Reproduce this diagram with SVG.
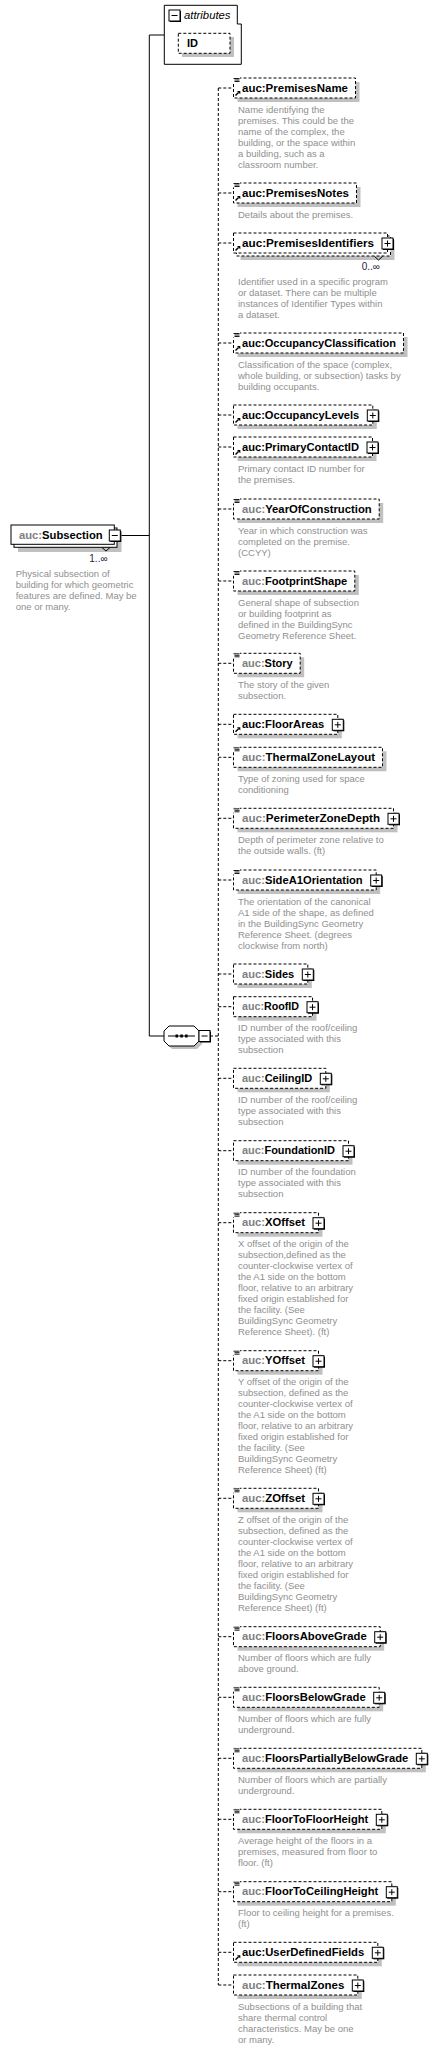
<svg xmlns="http://www.w3.org/2000/svg" xmlns:xlink="http://www.w3.org/1999/xlink" width="435" height="2051" viewBox="0 0 435 2051">
<style>
.bg{fill:#ffffff}
.sh{fill:#c0c0c0;stroke:none}
.box{fill:#ffffff;stroke:#000000;stroke-width:1;stroke-dasharray:3,2}
.sbox{fill:#ffffff;stroke:#000000;stroke-width:1}
.ln{stroke:#000000;stroke-width:1;fill:none}
.dln{stroke:#000000;stroke-width:1;fill:none;stroke-dasharray:3,2}
.nm{font-family:"Liberation Sans",Arial,sans-serif;font-size:11px;font-weight:bold;fill:#000000}
.pg{fill:#808080}
.pb{fill:#000000}
.ds{font-family:"Liberation Sans",Arial,sans-serif;font-size:9.5px;fill:#8f8f8f}
.oc{font-family:"Liberation Sans",Arial,sans-serif;font-size:10px;fill:#301840}
.it{font-family:"Liberation Sans",Arial,sans-serif;font-size:11px;font-style:italic;fill:#000000}
</style>
<defs>
<g id="plus">
<rect x="1" y="1" width="11" height="11" fill="#000000"/>
<rect x="0" y="0" width="11" height="11" fill="#ffffff" stroke="#000000" stroke-width="1"/>
<path d="M2.5 5.5H8.5M5.5 2.5V8.5" stroke="#000000" stroke-width="1" fill="none"/>
</g>
<g id="minus">
<rect x="1" y="1" width="11" height="11" fill="#000000"/>
<rect x="0" y="0" width="11" height="11" fill="#ffffff" stroke="#000000" stroke-width="1"/>
<path d="M2.5 5.5H8.5" stroke="#000000" stroke-width="1" fill="none"/>
</g>
<g id="doc">
<rect x="-0.5" y="-1" width="7" height="5.5" fill="#ffffff"/>
<path d="M0 0.5H6M1 2H6M1 3.5H6" stroke="#000000" stroke-width="0.9" fill="none"/>
</g>
<g id="ref">
<path d="M2 17.5L5 14.5" stroke="#000000" stroke-width="1.4" fill="none"/>
<polygon points="3.5,13 6.8,13 6.8,16.3" fill="#000000"/>
</g>
</defs>
<rect x="0" y="0" width="435" height="2051" fill="#ffffff"/>

<g id="connectors">
<path class="ln" d="M149.3 35V1036M149.3 35H164.3M120 535.5H149.3M149.3 1036H164"/>
<path class="dln" d="M210 1036H218.3M218.3 88V1985"/>
<path class="dln" d="M218.3 88H233.5M218.3 193H233.5M218.3 243H233.5M218.3 343H233.5M218.3 415H233.5M218.3 447H233.5M218.3 509H233.5M218.3 581H233.5M218.3 663.3H233.5M218.3 724.3H233.5M218.3 757.3H233.5M218.3 818.3H233.5M218.3 880H233.5M218.3 974H233.5M218.3 1006.7H233.5M218.3 1078.3H233.5M218.3 1150.7H233.5M218.3 1222.7H233.5M218.3 1360.7H233.5M218.3 1498.3H233.5M218.3 1636.7H233.5M218.3 1697.3H233.5M218.3 1758.3H233.5M218.3 1819.3H233.5M218.3 1891.7H233.5M218.3 1952.3H233.5M218.3 1985H233.5"/>
</g>

<g id="attributes">
<path d="M164.3 5.3H237.3V24H241.3V64.3H164.3Z" class="sbox"/>
<use xlink:href="#minus" x="169" y="10"/>
<text class="it" x="184" y="18.5" textLength="46.5" lengthAdjust="spacingAndGlyphs">attributes</text>
<rect class="sh" x="182" y="37" width="52" height="20"/>
<rect class="box" x="178.3" y="33.3" width="51.7" height="20"/>
<text class="nm" x="187" y="46.5">ID</text>
</g>

<g id="Subsection">
<rect class="sh" x="18" y="532" width="103.5" height="20"/>
<rect class="sbox" x="14" y="528" width="103" height="19.3"/>
<rect class="sbox" x="11" y="525" width="103.3" height="19.3"/>
<text class="nm" x="19" y="538.5" textLength="83.7" lengthAdjust="spacingAndGlyphs"><tspan class="pg">auc:</tspan>Subsection</text>
<use xlink:href="#minus" x="109.3" y="530"/>
<path class="ln" d="M102 547.5L106 551L110 547.5"/>
<text class="oc" x="89.3" y="561.7">1..∞</text>
<text class="ds"><tspan x="15.7" y="577">Physical subsection of</tspan><tspan x="15.7" y="588">building for which geometric</tspan><tspan x="15.7" y="599">features are defined. May be</tspan><tspan x="15.7" y="610">one or many.</tspan></text>
</g>

<g id="sequence">
<polygon class="sh" points="172,1029 197,1029 202,1034 202,1044 197,1049 172,1049 167,1044 167,1034"/>
<polygon class="sbox" points="169,1026 194,1026 199,1031 199,1041 194,1046 169,1046 164,1041 164,1031"/>
<path class="ln" d="M168 1036H195"/>
<rect x="175.5" y="1034.5" width="2.5" height="3" fill="#000000"/>
<rect x="180.3" y="1034.5" width="2.5" height="3" fill="#000000"/>
<rect x="185.1" y="1034.5" width="2.5" height="3" fill="#000000"/>
<use xlink:href="#minus" x="199" y="1030.5"/>
</g>

<g id="PremisesName">
<rect class="sh" x="237.5" y="82" width="122" height="20"/>
<rect class="box" x="233.5" y="78" width="122" height="20"/>
<use xlink:href="#doc" x="233.5" y="78"/><use xlink:href="#ref" x="233.5" y="78"/>
<text class="nm" x="242" y="91.5" textLength="106" lengthAdjust="spacingAndGlyphs"><tspan class="pb">auc:</tspan>PremisesName</text>
<text class="ds"><tspan x="238" y="112.5">Name identifying the</tspan><tspan x="238" y="123.5">premises. This could be the</tspan><tspan x="238" y="134.5">name of the complex, the</tspan><tspan x="238" y="145.5">building, or the space within</tspan><tspan x="238" y="156.5">a building, such as a</tspan><tspan x="238" y="167.5">classroom number.</tspan></text>
</g>

<g id="PremisesNotes">
<rect class="sh" x="237.5" y="187" width="123" height="20"/>
<rect class="box" x="233.5" y="183" width="123" height="20"/>
<use xlink:href="#doc" x="233.5" y="183"/><use xlink:href="#ref" x="233.5" y="183"/>
<text class="nm" x="242" y="196.5" textLength="107" lengthAdjust="spacingAndGlyphs"><tspan class="pb">auc:</tspan>PremisesNotes</text>
<text class="ds"><tspan x="238" y="217.5">Details about the premises.</tspan></text>
</g>

<g id="PremisesIdentifiers">
<rect class="sh" x="240.5" y="240" width="154" height="20"/>
<rect class="box" x="236.5" y="236" width="154" height="20"/>
<rect class="box" x="233.5" y="233" width="154" height="20"/>
<use xlink:href="#ref" x="233.5" y="233"/>
<text class="nm" x="242" y="246.5" textLength="132" lengthAdjust="spacingAndGlyphs"><tspan class="pb">auc:</tspan>PremisesIdentifiers</text>
<use xlink:href="#plus" x="382" y="238"/>
<path class="ln" d="M374.5 256.5L378.5 260L382.5 256.5"/>
<text class="oc" x="361.7" y="269.5">0..∞</text>
<text class="ds"><tspan x="238" y="284.5">Identifier used in a specific program</tspan><tspan x="238" y="295.5">or dataset. There can be multiple</tspan><tspan x="238" y="306.5">instances of Identifier Types within</tspan><tspan x="238" y="317.5">a dataset.</tspan></text>
</g>

<g id="OccupancyClassification">
<rect class="sh" x="237.5" y="337" width="170" height="20"/>
<rect class="box" x="233.5" y="333" width="170" height="20"/>
<use xlink:href="#doc" x="233.5" y="333"/><use xlink:href="#ref" x="233.5" y="333"/>
<text class="nm" x="242" y="346.5" textLength="154" lengthAdjust="spacingAndGlyphs"><tspan class="pb">auc:</tspan>OccupancyClassification</text>
<text class="ds"><tspan x="238" y="367.5">Classification of the space (complex,</tspan><tspan x="238" y="378.5">whole building, or subsection) tasks by</tspan><tspan x="238" y="389.5">building occupants.</tspan></text>
</g>

<g id="OccupancyLevels">
<rect class="sh" x="237.5" y="409" width="139.3" height="20"/>
<rect class="box" x="233.5" y="405" width="139.3" height="20"/>
<use xlink:href="#ref" x="233.5" y="405"/>
<text class="nm" x="242" y="418.5" textLength="117.3" lengthAdjust="spacingAndGlyphs"><tspan class="pb">auc:</tspan>OccupancyLevels</text>
<use xlink:href="#plus" x="367.3" y="410"/>
</g>

<g id="PrimaryContactID">
<rect class="sh" x="237.5" y="441" width="139" height="20"/>
<rect class="box" x="233.5" y="437" width="139" height="20"/>
<use xlink:href="#ref" x="233.5" y="437"/>
<text class="nm" x="242" y="450.5" textLength="117" lengthAdjust="spacingAndGlyphs"><tspan class="pb">auc:</tspan>PrimaryContactID</text>
<use xlink:href="#plus" x="367" y="442"/>
<text class="ds"><tspan x="238" y="471.5">Primary contact ID number for</tspan><tspan x="238" y="482.5">the premises.</tspan></text>
</g>

<g id="YearOfConstruction">
<rect class="sh" x="237.5" y="503" width="145.7" height="20"/>
<rect class="box" x="233.5" y="499" width="145.7" height="20"/>
<use xlink:href="#doc" x="233.5" y="499"/>
<text class="nm" x="242" y="512.5" textLength="129.7" lengthAdjust="spacingAndGlyphs"><tspan class="pg">auc:</tspan>YearOfConstruction</text>
<text class="ds"><tspan x="238" y="533.5">Year in which construction was</tspan><tspan x="238" y="544.5">completed on the premise.</tspan><tspan x="238" y="555.5">(CCYY)</tspan></text>
</g>

<g id="FootprintShape">
<rect class="sh" x="237.5" y="575" width="121.3" height="20"/>
<rect class="box" x="233.5" y="571" width="121.3" height="20"/>
<use xlink:href="#doc" x="233.5" y="571"/>
<text class="nm" x="242" y="584.5" textLength="105.3" lengthAdjust="spacingAndGlyphs"><tspan class="pg">auc:</tspan>FootprintShape</text>
<text class="ds"><tspan x="238" y="605.5">General shape of subsection</tspan><tspan x="238" y="616.5">or building footprint as</tspan><tspan x="238" y="627.5">defined in the BuildingSync</tspan><tspan x="238" y="638.5">Geometry Reference Sheet.</tspan></text>
</g>

<g id="Story">
<rect class="sh" x="237.5" y="657.3" width="66.7" height="20"/>
<rect class="box" x="233.5" y="653.3" width="66.7" height="20"/>
<use xlink:href="#doc" x="233.5" y="653.3"/>
<text class="nm" x="242" y="666.8" textLength="50.7" lengthAdjust="spacingAndGlyphs"><tspan class="pg">auc:</tspan>Story</text>
<text class="ds"><tspan x="238" y="687.8">The story of the given</tspan><tspan x="238" y="698.8">subsection.</tspan></text>
</g>

<g id="FloorAreas">
<rect class="sh" x="237.5" y="718.3" width="104.3" height="20"/>
<rect class="box" x="233.5" y="714.3" width="104.3" height="20"/>
<use xlink:href="#ref" x="233.5" y="714.3"/>
<text class="nm" x="242" y="727.8" textLength="82.3" lengthAdjust="spacingAndGlyphs"><tspan class="pb">auc:</tspan>FloorAreas</text>
<use xlink:href="#plus" x="332.3" y="719.3"/>
</g>

<g id="ThermalZoneLayout">
<rect class="sh" x="237.5" y="751.3" width="149" height="20"/>
<rect class="box" x="233.5" y="747.3" width="149" height="20"/>
<use xlink:href="#doc" x="233.5" y="747.3"/>
<text class="nm" x="242" y="760.8" textLength="133" lengthAdjust="spacingAndGlyphs"><tspan class="pg">auc:</tspan>ThermalZoneLayout</text>
<text class="ds"><tspan x="238" y="781.8">Type of zoning used for space</tspan><tspan x="238" y="792.8">conditioning</tspan></text>
</g>

<g id="PerimeterZoneDepth">
<rect class="sh" x="237.5" y="812.3" width="160" height="20"/>
<rect class="box" x="233.5" y="808.3" width="160" height="20"/>
<use xlink:href="#doc" x="233.5" y="808.3"/>
<text class="nm" x="242" y="821.8" textLength="138" lengthAdjust="spacingAndGlyphs"><tspan class="pg">auc:</tspan>PerimeterZoneDepth</text>
<use xlink:href="#plus" x="388" y="813.3"/>
<text class="ds"><tspan x="238" y="842.8">Depth of perimeter zone relative to</tspan><tspan x="238" y="853.8">the outside walls. (ft)</tspan></text>
</g>

<g id="SideA1Orientation">
<rect class="sh" x="237.5" y="874" width="142.7" height="20"/>
<rect class="box" x="233.5" y="870" width="142.7" height="20"/>
<use xlink:href="#doc" x="233.5" y="870"/>
<text class="nm" x="242" y="883.5" textLength="120.7" lengthAdjust="spacingAndGlyphs"><tspan class="pg">auc:</tspan>SideA1Orientation</text>
<use xlink:href="#plus" x="370.7" y="875"/>
<text class="ds"><tspan x="238" y="904.5">The orientation of the canonical</tspan><tspan x="238" y="915.5">A1 side of the shape, as defined</tspan><tspan x="238" y="926.5">in the BuildingSync Geometry</tspan><tspan x="238" y="937.5">Reference Sheet. (degrees</tspan><tspan x="238" y="948.5">clockwise from north)</tspan></text>
</g>

<g id="Sides">
<rect class="sh" x="237.5" y="968" width="74.3" height="20"/>
<rect class="box" x="233.5" y="964" width="74.3" height="20"/>
<text class="nm" x="242" y="977.5" textLength="52.3" lengthAdjust="spacingAndGlyphs"><tspan class="pg">auc:</tspan>Sides</text>
<use xlink:href="#plus" x="302.3" y="969"/>
</g>

<g id="RoofID">
<rect class="sh" x="237.5" y="1000.7" width="79" height="20"/>
<rect class="box" x="233.5" y="996.7" width="79" height="20"/>
<text class="nm" x="242" y="1010.2" textLength="57" lengthAdjust="spacingAndGlyphs"><tspan class="pg">auc:</tspan>RoofID</text>
<use xlink:href="#plus" x="307" y="1001.7"/>
<text class="ds"><tspan x="238" y="1031.2">ID number of the roof/ceiling</tspan><tspan x="238" y="1042.2">type associated with this</tspan><tspan x="238" y="1053.2">subsection</tspan></text>
</g>

<g id="CeilingID">
<rect class="sh" x="237.5" y="1072.3" width="92.3" height="20"/>
<rect class="box" x="233.5" y="1068.3" width="92.3" height="20"/>
<text class="nm" x="242" y="1081.8" textLength="70.3" lengthAdjust="spacingAndGlyphs"><tspan class="pg">auc:</tspan>CeilingID</text>
<use xlink:href="#plus" x="320.3" y="1073.3"/>
<text class="ds"><tspan x="238" y="1102.8">ID number of the roof/ceiling</tspan><tspan x="238" y="1113.8">type associated with this</tspan><tspan x="238" y="1124.8">subsection</tspan></text>
</g>

<g id="FoundationID">
<rect class="sh" x="237.5" y="1144.7" width="115" height="20"/>
<rect class="box" x="233.5" y="1140.7" width="115" height="20"/>
<text class="nm" x="242" y="1154.2" textLength="93" lengthAdjust="spacingAndGlyphs"><tspan class="pg">auc:</tspan>FoundationID</text>
<use xlink:href="#plus" x="343" y="1145.7"/>
<text class="ds"><tspan x="238" y="1175.2">ID number of the foundation</tspan><tspan x="238" y="1186.2">type associated with this</tspan><tspan x="238" y="1197.2">subsection</tspan></text>
</g>

<g id="XOffset">
<rect class="sh" x="237.5" y="1216.7" width="85" height="20"/>
<rect class="box" x="233.5" y="1212.7" width="85" height="20"/>
<use xlink:href="#doc" x="233.5" y="1212.7"/>
<text class="nm" x="242" y="1226.2" textLength="63" lengthAdjust="spacingAndGlyphs"><tspan class="pg">auc:</tspan>XOffset</text>
<use xlink:href="#plus" x="313" y="1217.7"/>
<text class="ds"><tspan x="238" y="1247.2">X offset of the origin of the</tspan><tspan x="238" y="1258.2">subsection,defined as the</tspan><tspan x="238" y="1269.2">counter-clockwise vertex of</tspan><tspan x="238" y="1280.2">the A1 side on the bottom</tspan><tspan x="238" y="1291.2">floor, relative to an arbitrary</tspan><tspan x="238" y="1302.2">fixed origin established for</tspan><tspan x="238" y="1313.2">the facility. (See</tspan><tspan x="238" y="1324.2">BuildingSync Geometry</tspan><tspan x="238" y="1335.2">Reference Sheet). (ft)</tspan></text>
</g>

<g id="YOffset">
<rect class="sh" x="237.5" y="1354.7" width="85" height="20"/>
<rect class="box" x="233.5" y="1350.7" width="85" height="20"/>
<use xlink:href="#doc" x="233.5" y="1350.7"/>
<text class="nm" x="242" y="1364.2" textLength="63" lengthAdjust="spacingAndGlyphs"><tspan class="pg">auc:</tspan>YOffset</text>
<use xlink:href="#plus" x="313" y="1355.7"/>
<text class="ds"><tspan x="238" y="1385.2">Y offset of the origin of the</tspan><tspan x="238" y="1396.2">subsection, defined as the</tspan><tspan x="238" y="1407.2">counter-clockwise vertex of</tspan><tspan x="238" y="1418.2">the A1 side on the bottom</tspan><tspan x="238" y="1429.2">floor, relative to an arbitrary</tspan><tspan x="238" y="1440.2">fixed origin established for</tspan><tspan x="238" y="1451.2">the facility. (See</tspan><tspan x="238" y="1462.2">BuildingSync Geometry</tspan><tspan x="238" y="1473.2">Reference Sheet) (ft)</tspan></text>
</g>

<g id="ZOffset">
<rect class="sh" x="237.5" y="1492.3" width="85" height="20"/>
<rect class="box" x="233.5" y="1488.3" width="85" height="20"/>
<use xlink:href="#doc" x="233.5" y="1488.3"/>
<text class="nm" x="242" y="1501.8" textLength="63" lengthAdjust="spacingAndGlyphs"><tspan class="pg">auc:</tspan>ZOffset</text>
<use xlink:href="#plus" x="313" y="1493.3"/>
<text class="ds"><tspan x="238" y="1522.8">Z offset of the origin of the</tspan><tspan x="238" y="1533.8">subsection, defined as the</tspan><tspan x="238" y="1544.8">counter-clockwise vertex of</tspan><tspan x="238" y="1555.8">the A1 side on the bottom</tspan><tspan x="238" y="1566.8">floor, relative to an arbitrary</tspan><tspan x="238" y="1577.8">fixed origin established for</tspan><tspan x="238" y="1588.8">the facility. (See</tspan><tspan x="238" y="1599.8">BuildingSync Geometry</tspan><tspan x="238" y="1610.8">Reference Sheet) (ft)</tspan></text>
</g>

<g id="FloorsAboveGrade">
<rect class="sh" x="237.5" y="1630.7" width="146.7" height="20"/>
<rect class="box" x="233.5" y="1626.7" width="146.7" height="20"/>
<use xlink:href="#doc" x="233.5" y="1626.7"/>
<text class="nm" x="242" y="1640.2" textLength="124.7" lengthAdjust="spacingAndGlyphs"><tspan class="pg">auc:</tspan>FloorsAboveGrade</text>
<use xlink:href="#plus" x="374.7" y="1631.7"/>
<text class="ds"><tspan x="238" y="1661.2">Number of floors which are fully</tspan><tspan x="238" y="1672.2">above ground.</tspan></text>
</g>

<g id="FloorsBelowGrade">
<rect class="sh" x="237.5" y="1691.3" width="145.7" height="20"/>
<rect class="box" x="233.5" y="1687.3" width="145.7" height="20"/>
<use xlink:href="#doc" x="233.5" y="1687.3"/>
<text class="nm" x="242" y="1700.8" textLength="123.7" lengthAdjust="spacingAndGlyphs"><tspan class="pg">auc:</tspan>FloorsBelowGrade</text>
<use xlink:href="#plus" x="373.7" y="1692.3"/>
<text class="ds"><tspan x="238" y="1721.8">Number of floors which are fully</tspan><tspan x="238" y="1732.8">underground.</tspan></text>
</g>

<g id="FloorsPartiallyBelowGrade">
<rect class="sh" x="237.5" y="1752.3" width="188.3" height="20"/>
<rect class="box" x="233.5" y="1748.3" width="188.3" height="20"/>
<use xlink:href="#doc" x="233.5" y="1748.3"/>
<text class="nm" x="242" y="1761.8" textLength="166.3" lengthAdjust="spacingAndGlyphs"><tspan class="pg">auc:</tspan>FloorsPartiallyBelowGrade</text>
<use xlink:href="#plus" x="416.3" y="1753.3"/>
<text class="ds"><tspan x="238" y="1782.8">Number of floors which are partially</tspan><tspan x="238" y="1793.8">underground.</tspan></text>
</g>

<g id="FloorToFloorHeight">
<rect class="sh" x="237.5" y="1813.3" width="148.3" height="20"/>
<rect class="box" x="233.5" y="1809.3" width="148.3" height="20"/>
<use xlink:href="#doc" x="233.5" y="1809.3"/>
<text class="nm" x="242" y="1822.8" textLength="126.3" lengthAdjust="spacingAndGlyphs"><tspan class="pg">auc:</tspan>FloorToFloorHeight</text>
<use xlink:href="#plus" x="376.3" y="1814.3"/>
<text class="ds"><tspan x="238" y="1843.8">Average height of the floors in a</tspan><tspan x="238" y="1854.8">premises, measured from floor to</tspan><tspan x="238" y="1865.8">floor. (ft)</tspan></text>
</g>

<g id="FloorToCeilingHeight">
<rect class="sh" x="237.5" y="1885.7" width="158.3" height="20"/>
<rect class="box" x="233.5" y="1881.7" width="158.3" height="20"/>
<use xlink:href="#doc" x="233.5" y="1881.7"/>
<text class="nm" x="242" y="1895.2" textLength="136.3" lengthAdjust="spacingAndGlyphs"><tspan class="pg">auc:</tspan>FloorToCeilingHeight</text>
<use xlink:href="#plus" x="386.3" y="1886.7"/>
<text class="ds"><tspan x="238" y="1916.2">Floor to ceiling height for a premises.</tspan><tspan x="238" y="1927.2">(ft)</tspan></text>
</g>

<g id="UserDefinedFields">
<rect class="sh" x="237.5" y="1946.3" width="144.3" height="20"/>
<rect class="box" x="233.5" y="1942.3" width="144.3" height="20"/>
<use xlink:href="#ref" x="233.5" y="1942.3"/>
<text class="nm" x="242" y="1955.8" textLength="122.3" lengthAdjust="spacingAndGlyphs"><tspan class="pb">auc:</tspan>UserDefinedFields</text>
<use xlink:href="#plus" x="372.3" y="1947.3"/>
</g>

<g id="ThermalZones">
<rect class="sh" x="237.5" y="1979" width="124.3" height="20"/>
<rect class="box" x="233.5" y="1975" width="124.3" height="20"/>
<text class="nm" x="242" y="1988.5" textLength="102.3" lengthAdjust="spacingAndGlyphs"><tspan class="pg">auc:</tspan>ThermalZones</text>
<use xlink:href="#plus" x="352.3" y="1980"/>
<text class="ds"><tspan x="238" y="2009.5">Subsections of a building that</tspan><tspan x="238" y="2020.5">share thermal control</tspan><tspan x="238" y="2031.5">characteristics. May be one</tspan><tspan x="238" y="2042.5">or many.</tspan></text>
</g>
</svg>
